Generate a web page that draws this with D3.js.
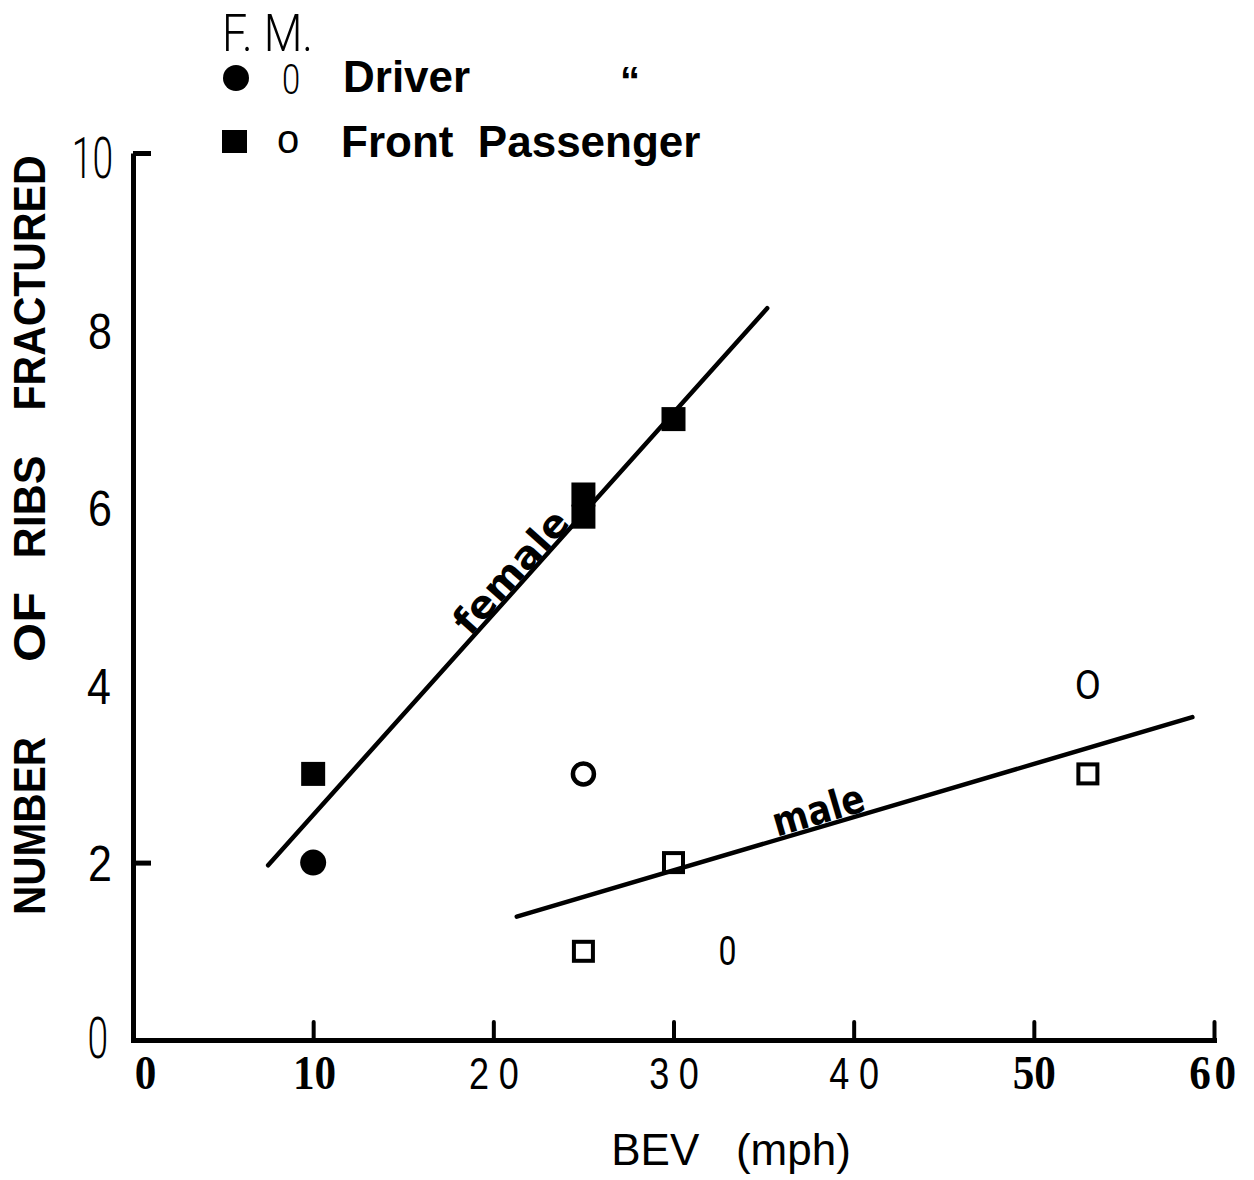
<!DOCTYPE html>
<html>
<head>
<meta charset="utf-8">
<script src="https://cdn.jsdelivr.net/npm/d3@7"></script>
<style>
  html, body { margin: 0; padding: 0; background: #fff; }
  svg { display: block; }
  text { white-space: pre; }
</style>
</head>
<body>
<svg id="chart" width="1254" height="1180"></svg>
<script>
// ---- data ----
const xTickValues = [0, 10, 20, 30, 40, 50, 60];
const xTickLabels = ["0", "10", "20", "30", "40", "50", "60"];
const yTickValues = [0, 2, 4, 6, 8, 10];
const yTickLabels = ["0", "2", "4", "6", "8", "10"];

const femaleDriverX = [10];
const femaleDriverY = [2];
const femalePassengerX = [10, 25, 25, 30];
const femalePassengerY = [3, 6.15, 5.9, 7];
const maleDriverX = [25];
const maleDriverY = [3];
const maleDriverGlyphX = [33, 53];
const maleDriverGlyphY = [1, 4];
const maleDriverGlyphs = ["0", "O"];
const malePassengerX = [25, 30, 53];
const malePassengerY = [1, 2, 3];

const femaleLineX = [7.5, 35.2];
const femaleLineY = [1.97, 8.25];
const maleLineX = [21.3, 58.8];
const maleLineY = [1.39, 3.64];

const yTitleWords = ["NUMBER", "OF", "RIBS", "FRACTURED"];
const xTitle = "BEV   (mph)";

// ---- layout ----
const svg = d3.select("#chart");
const x = d3.scaleLinear().domain([0, 60]).range([133, 1214]);
const y = d3.scaleLinear().domain([0, 10]).range([1040, 153]);

const thin = "Roboto, 'Liberation Sans', sans-serif";
const sans = "'Liberation Sans', Arial, sans-serif";
const serif = "'Liberation Serif', 'Times New Roman', serif";

// x axis
const xAxis = d3.axisBottom(x).tickValues(xTickValues)
  .tickFormat((d, i) => xTickLabels[i]).tickSizeInner(-18).tickSizeOuter(0).tickPadding(0);
const gx = svg.append("g").attr("transform", `translate(0,${y(0)})`).call(xAxis);
gx.select(".domain").attr("stroke", "#000").attr("stroke-width", 5).attr("stroke-linecap", "square");
gx.selectAll(".tick line").attr("stroke", "#000").attr("stroke-width", 4)
  .attr("y1", -2).attr("stroke-linecap", "round");
gx.selectAll(".tick").filter(d => d === 0).select("line").remove();
gx.selectAll(".tick text")
  .attr("y", 49).attr("dy", null).attr("fill", "#000")
  .each(function(d) {
    const t = d3.select(this);
    if (d === 20 || d === 30 || d === 40) {
      t.attr("font-family", sans).attr("font-size", 45).attr("font-weight", 400)
        .attr("letter-spacing", 12).attr("transform", "scale(0.8,1)").attr("x", 6);
    } else {
      t.attr("font-family", serif).attr("font-size", 48).attr("font-weight", 700)
        .attr("transform", "scale(0.9,1)").attr("x", 0);
      if (d === 0) t.attr("x", 12 / 0.9);
      if (d === 10) t.attr("x", 1);
      if (d === 60) t.attr("letter-spacing", 4).attr("x", 0);
    }
  });

// y axis
const yAxis = d3.axisLeft(y).tickValues(yTickValues)
  .tickFormat((d, i) => yTickLabels[i]).tickSizeInner(-18).tickSizeOuter(0).tickPadding(20);
const gy = svg.append("g").attr("transform", `translate(${x(0)},0)`).call(yAxis);
gy.select(".domain").attr("stroke", "#000").attr("stroke-width", 5);
gy.selectAll(".tick line").attr("stroke", "#000").attr("stroke-width", 5);
gy.selectAll(".tick").filter(d => d !== 2 && d !== 10).select("line").remove();
gy.selectAll(".tick text").attr("fill", "#000").attr("dy", "0.36em")
  .each(function(d) {
    const t = d3.select(this);
    if (d === 0 || d === 10) {
      t.attr("font-family", thin).attr("font-weight", 300).attr("font-size", 58)
        .attr("transform", "scale(0.64,1)").attr("x", -20 / 0.64);
      if (d === 0) t.attr("x", -25 / 0.64).attr("dy", "0.3em");
      if (d === 10) t.attr("dy", "0.42em");
    } else {
      t.attr("font-family", sans).attr("font-size", 50).attr("font-weight", 400)
        .attr("transform", "scale(0.86,1)").attr("x", -21 / 0.86);
      if (d === 4) t.attr("x", -22 / 0.86);
    }
  });

// y title
const yTitleCenters = [826, 627, 507, 283];
const yTitleLengths = [178, 70, 103, 255];
yTitleWords.forEach((w, i) => {
  svg.append("text")
    .attr("transform", `translate(29,${yTitleCenters[i]}) rotate(-90)`)
    .attr("text-anchor", "middle").attr("dominant-baseline", "central")
    .attr("font-family", sans).attr("font-weight", 700).attr("font-size", 45)
    .attr("textLength", yTitleLengths[i]).attr("lengthAdjust", "spacingAndGlyphs")
    .text(w);
});

// x title
svg.append("text").attr("x", 731).attr("y", 1165).attr("text-anchor", "middle")
  .attr("font-family", sans).attr("font-size", 44).text(xTitle);

// fit lines
const line = d3.line().x(d => x(d[0])).y(d => y(d[1]));
svg.append("path").datum(femaleLineX.map((v, i) => [v, femaleLineY[i]]))
  .attr("d", line).attr("stroke", "#000").attr("stroke-width", 4.5).attr("fill", "none")
  .attr("stroke-linecap", "round");
svg.append("path").datum(maleLineX.map((v, i) => [v, maleLineY[i]]))
  .attr("d", line).attr("stroke", "#000").attr("stroke-width", 4.5).attr("fill", "none")
  .attr("stroke-linecap", "round");

// line labels
function lineLabel(lx, ly, at, txt, size, off, len) {
  const x0 = x(lx[0]), y0 = y(ly[0]), x1 = x(lx[1]), y1 = y(ly[1]);
  const ang = Math.atan2(y1 - y0, x1 - x0) * 180 / Math.PI;
  const t = (at - lx[0]) / (lx[1] - lx[0]);
  const px = x0 + t * (x1 - x0), py = y0 + t * (y1 - y0);
  svg.append("text")
    .attr("transform", `translate(${px},${py}) rotate(${ang})`)
    .attr("x", 0).attr("y", off).attr("text-anchor", "middle")
    .attr("font-family", "'DejaVu Sans', sans-serif").attr("font-weight", 700)
    .attr("font-size", size).attr("textLength", len).attr("lengthAdjust", "spacingAndGlyphs")
    .text(txt);
}
lineLabel(femaleLineX, femaleLineY, 21.6, "female", 38, -2, 152);
lineLabel(maleLineX, maleLineY, 38.3, "male", 40, -3, 94);

// markers
svg.append("g").selectAll("circle").data(femaleDriverX).join("circle")
  .attr("cx", d => x(d)).attr("cy", (d, i) => y(femaleDriverY[i])).attr("r", 13).attr("fill", "#000");

const fs = 24;
svg.append("g").selectAll("rect").data(femalePassengerX).join("rect")
  .attr("x", d => x(d) - fs / 2).attr("y", (d, i) => y(femalePassengerY[i]) - fs / 2)
  .attr("width", fs).attr("height", fs).attr("fill", "#000");

svg.append("g").selectAll("circle").data(maleDriverX).join("circle")
  .attr("cx", d => x(d)).attr("cy", (d, i) => y(maleDriverY[i])).attr("r", 10.5)
  .attr("fill", "none").attr("stroke", "#000").attr("stroke-width", 4.5);

const ms = 19;
svg.append("g").selectAll("rect").data(malePassengerX).join("rect")
  .attr("x", d => x(d) - ms / 2).attr("y", (d, i) => y(malePassengerY[i]) - ms / 2)
  .attr("width", ms).attr("height", ms).attr("fill", "none")
  .attr("stroke", "#000").attr("stroke-width", 4);

svg.append("g").selectAll("text").data(maleDriverGlyphX).join("text")
  .attr("transform", (d, i) => `translate(${x(d)},${y(maleDriverGlyphY[i])}) scale(${i === 0 ? 0.8 : 0.95},1)`)
  .attr("text-anchor", "middle").attr("dominant-baseline", "central")
  .attr("font-family", thin).attr("font-weight", 400).attr("font-size", 40)
  .text((d, i) => maleDriverGlyphs[i]);

// legend
svg.append("text").attr("transform", "translate(222,51) scale(0.86,1)")
  .attr("font-family", thin).attr("font-weight", 300).attr("font-size", 52).text("F. M.");
svg.append("circle").attr("cx", 236).attr("cy", 78).attr("r", 13).attr("fill", "#000");
svg.append("text").attr("transform", "translate(282,94) scale(0.78,1)")
  .attr("font-family", thin).attr("font-weight", 300).attr("font-size", 42).text("0");
svg.append("text").attr("x", 343).attr("y", 92)
  .attr("font-family", sans).attr("font-weight", 700).attr("font-size", 44).text("Driver");
svg.append("text").attr("x", 620).attr("y", 95)
  .attr("font-family", sans).attr("font-weight", 700).attr("font-size", 40).text("\u201C");
svg.append("rect").attr("x", 222).attr("y", 130).attr("width", 25).attr("height", 23).attr("fill", "#000");
svg.append("text").attr("x", 277).attr("y", 153)
  .attr("font-family", sans).attr("font-weight", 400).attr("font-size", 40).text("o");
svg.append("text").attr("x", 341).attr("y", 157)
  .attr("font-family", sans).attr("font-weight", 700).attr("font-size", 44).text("Front  Passenger");
</script>
</body>
</html>
